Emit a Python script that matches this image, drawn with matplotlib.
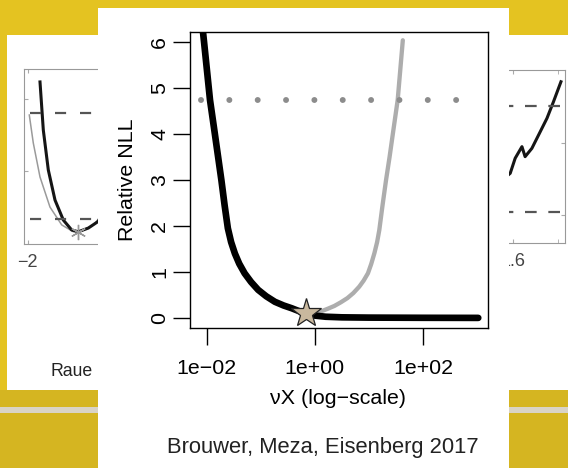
import numpy as np
import matplotlib.pyplot as plt
from matplotlib.patches import Rectangle

plt.rcParams["font.family"] = ["Liberation Sans", "DejaVu Sans"]
plt.rcParams["lines.scale_dashes"] = False

W, H = 568, 468

# grafico principal: x en log10(vX), y = NLL relativa
negro_logx = [-2.14, -2.05, -1.94, -1.85, -1.79, -1.73, -1.67, -1.61, -1.55, -1.48, -1.40,
              -1.30, -1.18, -1.05, -0.90, -0.74, -0.58, -0.43, -0.30, -0.15, 0.0, 0.2,
              0.5, 1.0, 2.0, 3.02]
negro_nll = [7.0, 6.0, 4.74, 4.0, 3.5, 3.0, 2.45, 1.95, 1.65, 1.40, 1.18,
             0.97, 0.78, 0.61, 0.47, 0.35, 0.27, 0.21, 0.15, 0.09, 0.05, 0.025,
             0.012, 0.006, 0.002, 0.0]
gris_logx = [-0.1, -0.01, 0.11, 0.24, 0.36, 0.48, 0.60, 0.71, 0.82, 0.90, 0.98, 1.04, 1.10,
             1.15, 1.19, 1.25, 1.315, 1.38, 1.44, 1.53, 1.625]
gris_nll = [0.02, 0.06, 0.14, 0.20, 0.26, 0.34, 0.43, 0.54, 0.68, 0.81, 0.97, 1.17, 1.41,
            1.65, 1.91, 2.45, 3.0, 3.5, 4.0, 4.74, 6.04]
umbral_nll = 4.74
umbral_logx = [-2.10, 2.65]
mejor_logx = -0.17
mejor_nll = 0.10
xticks = [1e-2, 1e0, 1e2]
xtick_labels = ["1e\u221202", "1e+00", "1e+02"]
yticks = [0, 1, 2, 3, 4, 5, 6]

# panel de la izquierda (Raue), parcialmente tapado
izq_negro_x = [-1.68, -1.593, -1.462, -1.286, -1.068, -0.848, -0.675, -0.412, -0.166, 0.3, 0.8]
izq_negro_y = [0.926, 0.651, 0.423, 0.251, 0.137, 0.080, 0.070, 0.091, 0.127, 0.25, 0.5]
izq_gris_x = [-1.961, -1.856, -1.68, -1.418, -1.11, -0.806, -0.586, -0.281, -0.166, 0.3]
izq_gris_y = [0.737, 0.577, 0.383, 0.211, 0.109, 0.070, 0.074, 0.109, 0.137, 0.3]
izq_niveles = [0.749, 0.143]
izq_mejor = (-0.683, 0.069)

# panel de la derecha, parcialmente tapado
der_negro_x = [1.45, 1.52, 1.587, 1.609, 1.639, 1.653, 1.683, 1.720, 1.750, 1.779, 1.812]
der_negro_y = [0.25, 0.33, 0.403, 0.490, 0.557, 0.499, 0.547, 0.643, 0.721, 0.817, 0.932]
der_niveles = [0.792, 0.179]

fig = plt.figure(figsize=(W / 100, H / 100), dpi=100)
fig.patch.set_facecolor("#E4C321")


def caja(x0, y0, x1, y1):
    # caja en pixeles -> fraccion de figura
    return [x0 / W, 1 - y1 / H, (x1 - x0) / W, (y1 - y0) / H]


def rect(x0, y0, x1, y1, color, z):
    fig.add_artist(Rectangle((x0 / W, 1 - y1 / H), (x1 - x0) / W, (y1 - y0) / H,
                             transform=fig.transFigure, facecolor=color,
                             edgecolor="none", zorder=z))


# fondo de la diapositiva
rect(0, 390, W, H, "#D5B521", 0.05)
rect(0, 407, W, 413, "#D9D3C6", 0.06)
rect(7, 35, 200, 390, "white", 0.5)
rect(400, 35, W, 390, "white", 0.5)
rect(98, 8, 509, H, "white", 2)

# --- panel izquierdo ---
izq = fig.add_axes(caja(24, 69, 184, 244))
izq.set_zorder(1)
izq.plot(izq_gris_x, izq_gris_y, color="#9a9a9a", lw=1.1)
izq.plot(izq_negro_x, izq_negro_y, color="#151515", lw=2.2)
for nivel in izq_niveles:
    izq.plot([-1.94, 2.1], [nivel, nivel], color="#555555", lw=1.6, linestyle=(0, (8, 10)))
izq.plot([izq_mejor[0]], [izq_mejor[1]], marker=(6, 2, 0), ms=11, color="#999999", mew=1)
izq.set_xlim(-2.1, 2.1)
izq.set_ylim(0, 1)
izq.set_xticks([-2], ["\u22122"])
izq.set_yticks([0.42, 0.83], ["", ""])
izq.tick_params(direction="in", length=3, color="#aaaaaa", labelsize=13,
                labelcolor="#444444", pad=7, top=True)
for s in izq.spines.values():
    s.set_color("#999999")
    s.set_linewidth(0.8)
fig.text(50 / W, 1 - 372 / H, "Raue", fontsize=12.7, va="center",
         color="#222222", zorder=1)

# --- panel derecho ---
der = fig.add_axes(caja(423, 70, 565, 243))
der.set_zorder(1)
der.plot(der_negro_x, der_negro_y, color="#151515", lw=2.2)
for nivel in der_niveles:
    der.plot([1.81, 1.2], [nivel, nivel], color="#555555", lw=1.6, linestyle=(0, (8.4, 8.4)))
der.set_xlim(1.2, 1.83)
der.set_ylim(0, 1)
der.set_xticks([1.6], ["1.6"])
der.set_xticks([1.8], minor=True)
der.yaxis.tick_right()
der.set_yticks([0.16, 0.58], ["", ""])
der.tick_params(which="both", direction="in", length=3, color="#aaaaaa", labelsize=13,
                labelcolor="#444444", pad=7, top=True)
for s in der.spines.values():
    s.set_color("#999999")
    s.set_linewidth(0.8)

# --- grafico principal ---
ax = fig.add_axes(caja(190, 32, 488, 328))
ax.set_zorder(5)
ax.plot(10 ** np.array(gris_logx), gris_nll, color="#ADADAD", lw=3.1, solid_capstyle="round")
ax.plot(10 ** np.array(negro_logx), negro_nll, color="black", lw=4.8, solid_capstyle="round")
ax.plot(10 ** np.array(umbral_logx), [umbral_nll, umbral_nll], color="#8C8C8C", lw=4.3,
        linestyle=(0, (0.01, 20.4)), dash_capstyle="round")
ax.plot([10 ** mejor_logx], [mejor_nll], marker="*", ms=22, mfc="#C9B89E", mec="#222222", mew=0.9)
ax.set_xscale("log")
ax.set_xlim(10 ** -2.31, 10 ** 3.2)
ax.set_ylim(-0.22, 6.22)
ax.set_xticks(xticks, xtick_labels)
ax.minorticks_off()
ax.set_yticks(yticks)
ax.tick_params(length=12, width=1, labelsize=15.4, direction="out")
ax.tick_params(axis="x", pad=10)
ax.tick_params(axis="y", pad=3, labelrotation=90)
for t in ax.get_yticklabels():
    t.set_va("center")
for s in ax.spines.values():
    s.set_linewidth(1.0)
ax.set_xlabel("\u03bdX (log\u2212scale)", fontsize=15.4)
ax.xaxis.set_label_coords(0.495, -0.238)
ax.xaxis.label.set_va("center")
ax.set_ylabel("Relative NLL", fontsize=15.4)
ax.yaxis.set_label_coords(-0.211, 0.5)
ax.yaxis.label.set_va("center")

fig.text(323 / W, 1 - 447 / H, "Brouwer, Meza, Eisenberg 2017", ha="center", va="center",
         fontsize=15.8, color="#222222", zorder=6)

fig.savefig("out.png", dpi=100)
